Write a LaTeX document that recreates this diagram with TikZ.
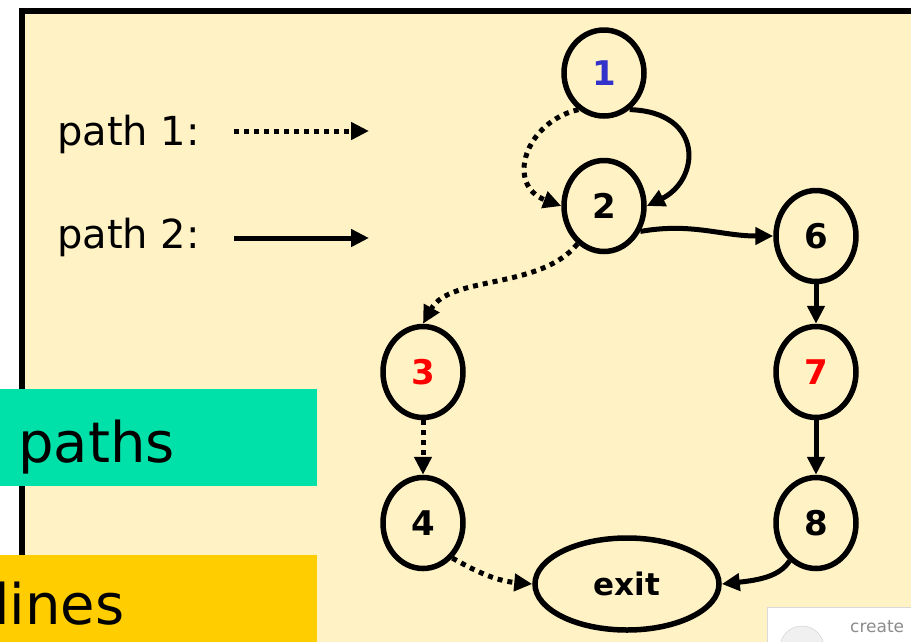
\documentclass[tikz,border=0pt]{standalone}
\usepackage{fontspec}
\setmainfont{DejaVu Sans}
\usetikzlibrary{arrows.meta,shapes.geometric}
\definecolor{panel}{HTML}{FFF2C4}
\definecolor{greenbox}{HTML}{00E1A9}
\definecolor{goldbox}{HTML}{FFCD00}
\definecolor{numblue}{HTML}{3333CC}
\definecolor{numred}{HTML}{FF0000}
\tikzset{
  vnode/.style={draw=black, line width=5.5pt, ellipse, minimum width=80pt, minimum height=91pt, inner sep=0pt, font=\fontsize{34}{36}\selectfont\bfseries},
  solidarrow/.style={line width=5pt, -{Triangle[length=18pt,width=17pt]}},
  dotarrow/.style={line width=5pt, dash pattern=on 5pt off 5pt, -{Triangle[length=18pt,width=17pt]}},
  legendtext/.style={font=\fontsize{40}{44}\selectfont, anchor=base west, inner sep=0pt},
}
\begin{document}
\begin{tikzpicture}[x=1pt,y=-1pt]
\useasboundingbox (0,0) rectangle (911,641);
\clip (0,0) rectangle (911,641);
\fill[white] (0,0) rectangle (911,641);
% panel
\draw[fill=panel, line width=6pt] (22,11) rectangle (930,660);

% legend
\node[legendtext] (p1) at (57,145) {path 1:};
\node[legendtext] (p2) at (57,248) {path 2:};
\coordinate (l1s) at (234,131);
\coordinate (l1e) at (369,131);
\coordinate (l2s) at (234,238);
\coordinate (l2e) at (369,238);
\draw[dotarrow] (l1s) -- (l1e);
\draw[solidarrow] (l2s) -- (l2e);

% nodes
\node[vnode, text=numblue, minimum height=86pt] (n1) at (604,73) {1};
\node[vnode] (n2) at (604,206) {2};
\node[vnode] (n6) at (816,236) {6};
\node[vnode, text=numred] (n3) at (423,372) {3};
\node[vnode, text=numred] (n7) at (816,372) {7};
\node[vnode] (n4) at (423,523) {4};
\node[vnode] (n8) at (816,523) {8};
\node[vnode, minimum width=184pt, minimum height=92pt, font=\fontsize{31}{33}\selectfont\bfseries] (ex) at (627,584) {exit};

% edges
\draw[dotarrow] (n1.235) .. controls (525,122) and (505,185) .. (n2.west);
\draw[solidarrow] (n1.-55) .. controls (705,112) and (700,180) .. (n2.east);
\draw[solidarrow] (n2.-35) to[out=10,in=180] (n6.west);
\draw[dotarrow] (n2.235) .. controls (540,290) and (450,275) .. (n3.north);
\draw[dotarrow] (n3.south) -- (n4.north);
\draw[solidarrow] (n6.south) -- (n7.north);
\draw[solidarrow] (n7.south) -- (n8.north);
\draw[dotarrow] (n4.-50) to[out=-30,in=175] (ex.west);
\draw[solidarrow] (n8.-125) .. controls (780,576) and (760,580) .. (ex.east);

% side boxes
\node[fill=greenbox, minimum width=317pt, minimum height=97pt, anchor=north west, inner sep=0pt] (gb) at (0,389) {};
\node[font=\fontsize{56}{60}\selectfont, anchor=base west, inner sep=0pt] (tpaths) at (18,462) {paths};
\node[fill=goldbox, minimum width=317pt, minimum height=90pt, anchor=north west, inner sep=0pt] (yb) at (0,555) {};
\node[font=\fontsize{56}{60}\selectfont, anchor=base west, inner sep=0pt] (tlines) at (-6,624) {lines};

% watermark
\node[draw=black!15, fill=white, minimum width=150pt, minimum height=40pt, anchor=north west, inner sep=0pt] (wm) at (767,607) {};
\node[draw=black!20, fill=black!6, circle, minimum size=44pt, inner sep=0pt] (wmc) at (802,648) {};
\node[text=black!45, font=\fontsize{17}{18}\selectfont, anchor=base west, inner sep=0pt] (wmt) at (850,632) {create};
\end{tikzpicture}
\end{document}
